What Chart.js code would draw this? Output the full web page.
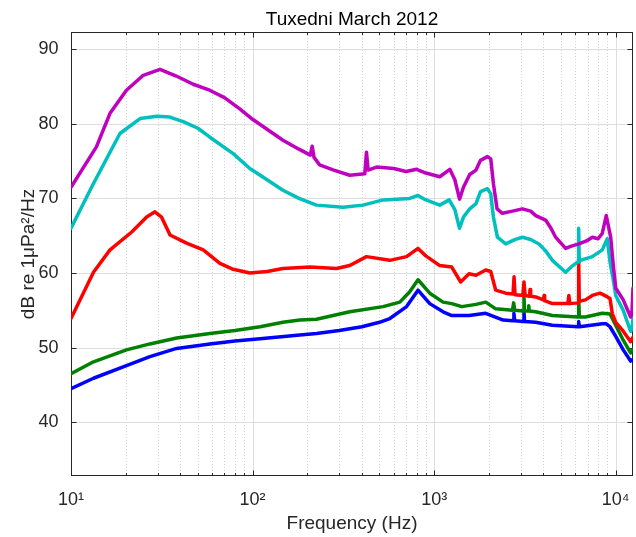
<!DOCTYPE html>
<html>
<head>
<meta charset="utf-8">
<title>Tuxedni March 2012</title>
<script src="https://cdn.jsdelivr.net/npm/chart.js@4.4.1/dist/chart.umd.min.js"></script>
<style>
  html, body { margin: 0; padding: 0; background: #fff; }
  #psd { display: block; }
</style>
</head>
<body>
<canvas id="psd" width="636" height="537"></canvas>
<script>
// Tuxedni, March 2012 - spectrum levels per percentile curve (dB re 1 uPa^2/Hz)
const magentaHz = [10, 13.8, 16.4, 20.2, 25, 30.9, 38, 47.1, 58, 70, 85, 100, 147, 180, 208, 213, 218, 234, 280, 343,
  415, 424, 433, 481, 600, 700, 800, 900, 1074, 1220, 1300, 1380, 1450, 1570, 1700, 1800, 1965, 2050, 2120, 2220,
  2376, 2700, 3063, 3400, 3624, 4110, 4400, 4667, 5296, 5700, 6267, 6900, 7430, 8000, 8430, 8870, 9380, 9700, 10000, 11000,
  12080, 12300, 12450];
const magentaDb = [71.5, 76.9, 81.4, 84.5, 86.5, 87.3, 86.4, 85.3, 84.5, 83.5, 82.0, 80.6, 77.8, 76.6, 75.8, 77.0, 75.5, 74.5, 73.8, 73.1,
  73.3, 76.2, 73.8, 74.2, 74.0, 73.6, 73.9, 73.4, 72.9, 73.9, 72.5, 69.9, 71.5, 73.2, 73.8, 75.1, 75.6, 75.3, 72.0, 68.6,
  68.0, 68.3, 68.6, 68.3, 67.7, 67.1, 66.0, 64.8, 63.3, 63.6, 63.9, 64.3, 64.8, 64.6, 65.3, 67.7, 64.8, 61.0, 58.0, 56.4,
  54.1, 55.0, 58.0];

const cyanHz = [10, 13.3, 18.6, 24, 29.7, 35, 41.5, 50, 58.2, 78.2, 96.6, 107, 147, 180, 225, 315, 406, 523, 734, 815,
  900, 1074, 1210, 1300, 1380, 1450, 1570, 1700, 1800, 1965, 2050, 2120, 2230, 2478, 2800, 3063, 3400, 3780, 4100, 4477,
  5296, 5800, 6200, 6250, 6300, 6400, 7430, 8430, 8980, 9300, 9770, 10000, 11000, 12080, 12300, 12450];
const cyanDb = [66.0, 72.0, 78.7, 80.7, 81.0, 80.9, 80.3, 79.4, 78.2, 76.0, 74.0, 73.3, 71.1, 70.0, 69.1, 68.8, 69.1, 69.8, 70.0, 70.4,
  69.8, 69.1, 69.8, 68.5, 66.0, 67.5, 68.6, 69.3, 70.9, 71.3, 70.6, 67.5, 64.8, 63.9, 64.5, 64.8, 64.5, 63.9, 63.0, 61.7,
  60.1, 61.0, 61.5, 66.0, 61.5, 61.7, 62.2, 63.1, 64.6, 61.5, 58.6, 57.0, 55.0, 52.2, 52.5, 54.0];

const redHz = [10, 13.3, 16.4, 21.6, 26.1, 29, 31.5, 35.1, 43.3, 53.5, 66.1, 78.2, 96.6, 120, 147, 207, 290, 343, 424, 570,
  705, 815, 900, 1074, 1250, 1400, 1556, 1700, 1923, 2050, 2183, 2478, 2720, 2755, 2790, 3080, 3124, 3170, 3350, 3375,
  3400, 3624, 4000, 4030, 4060, 4477, 5450, 5520, 5590, 6200, 6250, 6300, 6810, 7430, 8200, 9000, 9300, 9570, 10000, 11000,
  12080, 12450];
const redDb = [53.9, 60.1, 63.1, 65.5, 67.5, 68.2, 67.5, 65.1, 64.0, 63.1, 61.3, 60.5, 60.0, 60.2, 60.6, 60.8, 60.6, 61.0, 62.2, 61.7,
  62.2, 63.3, 62.3, 61.0, 60.8, 58.8, 59.9, 59.7, 60.4, 60.2, 57.7, 57.3, 57.2, 59.5, 57.1, 57.0, 58.8, 57.0, 56.9, 57.8,
  56.9, 56.8, 56.4, 57.0, 56.3, 55.9, 55.9, 57.0, 55.9, 56.0, 62.0, 56.2, 56.4, 57.0, 57.3, 56.8, 56.6, 54.6, 53.4, 52.2,
  50.8, 51.4];

const greenHz = [10, 13.3, 20.2, 27.2, 38.2, 58.2, 80, 110, 147, 182, 225, 343, 523, 647, 734, 815, 946, 1120, 1250, 1420,
  1700, 1923, 2183, 2700, 2740, 2780, 3100, 3124, 3150, 3300, 3320, 3340, 3624, 4477, 6200, 6250, 6300, 6810, 8430, 9300,
  10000, 11000, 12080, 12450];
const greenDb = [46.5, 48.1, 49.7, 50.5, 51.3, 51.9, 52.3, 52.8, 53.4, 53.7, 53.8, 54.8, 55.5, 56.1, 57.5, 59.1, 57.3, 56.1, 55.9, 55.5,
  55.8, 56.1, 55.2, 55.0, 56.0, 55.0, 54.9, 56.8, 54.9, 54.9, 55.6, 54.9, 54.8, 54.3, 54.1, 57.0, 54.1, 54.1, 54.6, 54.5,
  53.0, 51.0, 49.3, 49.8];

const blueHz = [10, 13.3, 20.2, 27.2, 38.2, 58.2, 80, 110, 182, 225, 300, 400, 500, 570, 705, 815, 946, 1120, 1250, 1556,
  1923, 2400, 2720, 2750, 2780, 3100, 3124, 3150, 3624, 4477, 6200, 6250, 6300, 6810, 8430, 8870, 9300, 10000, 11000, 12080,
  12450];
const blueDb = [44.5, 45.9, 47.6, 48.8, 49.9, 50.5, 50.9, 51.2, 51.7, 51.9, 52.3, 52.8, 53.4, 53.9, 55.5, 57.7, 55.9, 54.8, 54.3, 54.3,
  54.6, 53.7, 53.6, 54.6, 53.6, 53.5, 54.8, 53.5, 53.4, 53.0, 52.8, 53.5, 52.8, 52.9, 53.2, 53.2, 52.8, 51.5, 49.7, 48.2,
  48.4];

const yTicks = [40, 50, 60, 70, 80, 90];
const xDecades = [10, 100, 1000, 10000];
const xDecadeLabels = ['10\u00B9', '10\u00B2', '10\u00B3', '10\u2074'];

const X_MIN = 10, X_MAX = 12450;
const Y_MIN = 32.8, Y_MAX = 92.3;

const FONT = "'Liberation Sans', Arial, Helvetica, sans-serif";
const AXIS_COLOR = '#262626';

// minor log ticks: 2..9 times each decade, up to the end of the axis
const xMinor = [];
xDecades.forEach(d => { for (let m = 2; m <= 9; m++) if (d * m <= X_MAX) xMinor.push(d * m); });

const isDecade = v => xDecades.indexOf(v) !== -1;
const toPoints = (hz, db) => hz.map((f, i) => ({ x: f, y: db[i] }));

// grid, box and inward tick marks in the usual MATLAB look
const boxAxes = {
  id: 'boxAxes',
  beforeDatasetsDraw(chart) {
    const { ctx, chartArea: a, scales: { x, y } } = chart;
    const seg = (x1, y1, x2, y2) => { ctx.beginPath(); ctx.moveTo(x1, y1); ctx.lineTo(x2, y2); ctx.stroke(); };
    const xp = v => Math.round(x.getPixelForValue(v)) + 0.5;
    const yp = v => Math.round(y.getPixelForValue(v)) + 0.5;
    ctx.save();
    ctx.lineWidth = 1;

    ctx.strokeStyle = '#d2d2d2';
    ctx.setLineDash([1, 2]);
    xMinor.forEach(v => seg(xp(v), a.top, xp(v), a.bottom));
    ctx.setLineDash([]);

    ctx.strokeStyle = '#dedede';
    xDecades.forEach(v => seg(xp(v), a.top, xp(v), a.bottom));
    yTicks.forEach(v => seg(a.left, yp(v), a.right, yp(v)));

    ctx.strokeStyle = AXIS_COLOR;
    ctx.strokeRect(a.left + 0.5, a.top + 0.5, a.right - a.left - 1, a.bottom - a.top - 1);
    xDecades.concat(xMinor).forEach(v => {
      const len = isDecade(v) ? 5.5 : 3;
      seg(xp(v), a.bottom, xp(v), a.bottom - len);
      seg(xp(v), a.top, xp(v), a.top + len);
    });
    yTicks.forEach(v => {
      seg(a.left, yp(v), a.left + 5.5, yp(v));
      seg(a.right, yp(v), a.right - 5.5, yp(v));
    });
    ctx.restore();
  }
};

const line = (hz, db, color) => ({
  data: toPoints(hz, db),
  borderColor: color,
  borderWidth: 3.5,
  pointRadius: 0,
  tension: 0,
  borderJoinStyle: 'round',
  borderCapStyle: 'round',
  fill: false
});

new Chart(document.getElementById('psd'), {
  type: 'line',
  data: {
    datasets: [
      line(magentaHz, magentaDb, '#BF00BF'),
      line(cyanHz, cyanDb, '#00BFBF'),
      line(redHz, redDb, '#FF0000'),
      line(greenHz, greenDb, '#008000'),
      line(blueHz, blueDb, '#0000FF')
    ]
  },
  options: {
    responsive: false,
    animation: false,
    devicePixelRatio: 1,
    layout: { padding: { left: 0, right: 3, top: 0, bottom: 0 } },
    plugins: {
      legend: { display: false },
      tooltip: { enabled: false },
      title: {
        display: true,
        text: 'Tuxedni March 2012',
        color: '#000',
        fullSize: false,
        font: { family: FONT, size: 19, weight: 'normal', lineHeight: 1.2 },
        padding: { top: 8.5, bottom: 0.7 }
      }
    },
    scales: {
      x: {
        type: 'logarithmic',
        min: X_MIN,
        max: X_MAX,
        afterBuildTicks: s => {
          s.ticks = xDecades.concat(xMinor, [X_MAX]).sort((p, q) => p - q).map(v => ({ value: v }));
        },
        // fixed axis box; no extra side padding for edge labels
        afterFit: s => { s.height = 61; s.paddingLeft = 0; s.paddingRight = 0; },
        grid: { display: false },
        border: { display: false },
        ticks: {
          autoSkip: false,
          maxRotation: 0,
          padding: 5,
          color: AXIS_COLOR,
          font: { family: FONT, size: 18 },
          callback: v => { const i = xDecades.indexOf(v); return i === -1 ? '' : xDecadeLabels[i]; }
        },
        title: {
          display: true,
          text: 'Frequency (Hz)',
          color: AXIS_COLOR,
          font: { family: FONT, size: 19, lineHeight: 1.2 },
          padding: { top: 0, bottom: 1.6 }
        }
      },
      y: {
        min: Y_MIN,
        max: Y_MAX,
        afterBuildTicks: s => { s.ticks = yTicks.map(v => ({ value: v })); },
        afterFit: s => { s.width = 71; s.paddingTop = 0; s.paddingBottom = 0; },
        grid: { display: false },
        border: { display: false },
        ticks: {
          padding: 4.5,
          color: AXIS_COLOR,
          font: { family: FONT, size: 18 }
        },
        title: {
          display: true,
          text: 'dB re 1\u03BCPa\u00B2/Hz',
          color: AXIS_COLOR,
          font: { family: FONT, size: 19, lineHeight: 1.2 },
          padding: { top: 17, bottom: 0 }
        }
      }
    }
  },
  plugins: [boxAxes]
});
</script>
</body>
</html>
